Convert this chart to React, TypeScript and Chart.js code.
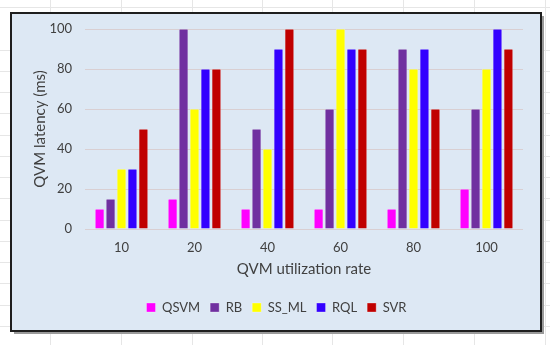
import React, { useEffect, useRef } from "react";
import { Chart, registerables } from "chart.js";

Chart.register(...registerables);

const categories = ["10", "20", "40", "60", "80", "100"];
const seriesNames = ["QSVM", "RB", "SS_ML", "RQL", "SVR"];
const qsvm = [10, 15, 10, 10, 10, 20];
const rb = [15, 100, 50, 60, 90, 60];
const ssml = [30, 60, 40, 100, 80, 80];
const rql = [30, 80, 90, 90, 90, 100];
const svr = [50, 80, 100, 90, 60, 90];
const colors = ["#ff00ff", "#7030a0", "#ffff00", "#3300ff", "#c00000"];
const yTicks = [0, 20, 40, 60, 80, 100];

const FONT = "Lato, 'Open Sans', sans-serif";

const panelPlugin = {
  id: "panel",
  beforeDraw(chart: any) {
    const ctx = chart.ctx;
    ctx.save();
    ctx.fillStyle = "#ffffff";
    ctx.fillRect(0, 0, chart.width, chart.height);
    // faint spreadsheet grid behind the panel
    ctx.strokeStyle = "#e6e6e6";
    ctx.lineWidth = 1;
    [50, 121, 192, 262, 332, 403, 474, 545].forEach((x) => {
      ctx.beginPath();
      ctx.moveTo(x + 0.5, 0);
      ctx.lineTo(x + 0.5, chart.height);
      ctx.stroke();
    });
    [7, 50, 71, 92, 113, 135, 156, 177, 198, 220, 241, 262, 283, 305, 326].forEach((y) => {
      ctx.beginPath();
      ctx.moveTo(0, y + 0.5);
      ctx.lineTo(chart.width, y + 0.5);
      ctx.stroke();
    });
    // shadow
    ctx.fillStyle = "#9a9a9a";
    ctx.fillRect(14, 16, 530, 318);
    // panel
    ctx.fillStyle = "#1e1e1e";
    ctx.fillRect(10, 12, 532, 320);
    ctx.fillStyle = "#dde8f4";
    ctx.fillRect(12, 14, 528, 316);
    ctx.restore();
  },
};

export default function App() {
  const ref = useRef<HTMLCanvasElement | null>(null);

  useEffect(() => {
    if (!ref.current) return;
    const data = [qsvm, rb, ssml, rql, svr];
    const chart = new Chart(ref.current, {
      type: "bar",
      data: {
        labels: categories,
        datasets: seriesNames.map((name, i) => ({
          label: name,
          data: data[i],
          backgroundColor: colors[i],
          borderColor: "rgba(255,255,255,0.6)",
          borderWidth: 0.5,
          categoryPercentage: 0.75,
          barPercentage: 0.84,
        })),
      },
      options: {
        responsive: false,
        animation: false,
        maintainAspectRatio: false,
        layout: { padding: { left: 30, right: 27, top: 29, bottom: 21 } },
        plugins: {
          tooltip: { enabled: false },
          legend: {
            position: "bottom",
            labels: {
              boxWidth: 9,
              boxHeight: 9,
              padding: 10,
              color: "#404040",
              font: { family: FONT, size: 13 },
            },
          },
        },
        scales: {
          x: {
            grid: { display: false, drawTicks: false },
            border: { display: false },
            ticks: { color: "#404040", font: { family: FONT, size: 13 }, padding: 11 },
            title: {
              display: true,
              text: "QVM utilization rate",
              color: "#404040",
              font: { family: FONT, size: 15 },
              padding: { top: 0, bottom: 13 },
            },
            afterFit: (s: any) => {
              s.height = 62;
            },
          },
          y: {
            min: 0,
            max: 100,
            afterBuildTicks: (s: any) => {
              s.ticks = yTicks.map((v) => ({ value: v }));
            },
            grid: { color: "#d9cfd2", drawTicks: false, lineWidth: 1 },
            border: { display: false },
            ticks: { color: "#404040", font: { family: FONT, size: 13 }, padding: 13 },
            title: {
              display: true,
              text: "QVM latency (ms)",
              color: "#404040",
              font: { family: FONT, size: 15 },
              padding: { top: 1, bottom: 0 },
            },
            afterFit: (s: any) => {
              s.width = 55;
            },
          },
        },
      },
      plugins: [panelPlugin],
    });
    return () => chart.destroy();
  }, []);

  return (
    <div style={{ position: "fixed", left: 0, top: 0, width: 550, height: 345 }}>
      <canvas ref={ref} width={550} height={345} style={{ display: "block" }} />
    </div>
  );
}
